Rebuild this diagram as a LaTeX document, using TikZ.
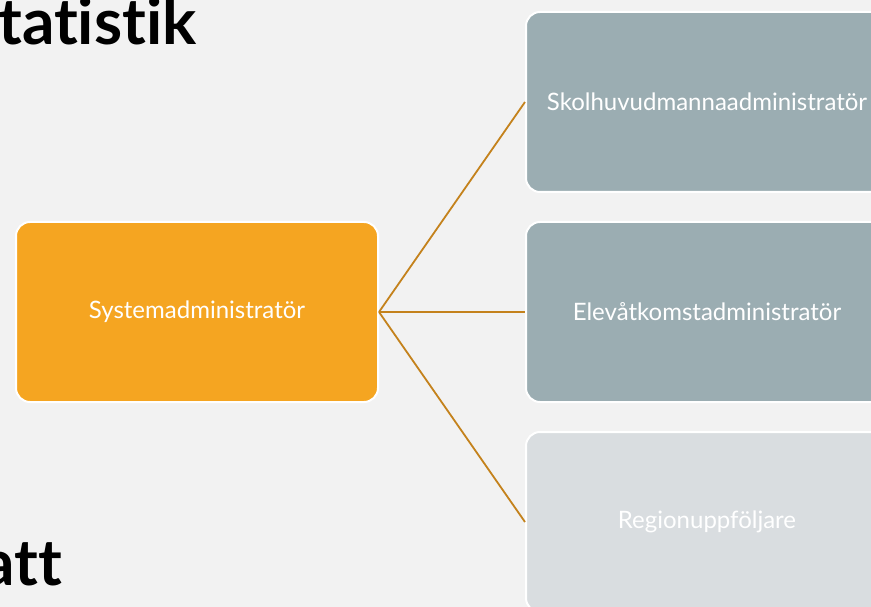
\documentclass[tikz,border=0pt]{standalone}
\usepackage{fontspec}
\setmainfont[Ligatures=NoCommon]{Lato}
\definecolor{bg}{HTML}{F2F2F2}
\definecolor{orangebox}{HTML}{F5A521}
\definecolor{graybox}{HTML}{9BADB2}
\definecolor{lightbox}{HTML}{D9DDE0}
\definecolor{linkcol}{HTML}{C4821C}
\begin{document}
\begin{tikzpicture}[x=1pt,y=-1pt,
  box/.style={draw=white,line width=2pt,rounded corners=14pt,minimum width=362pt,minimum height=180pt,inner sep=0pt,text=white,font=\fontsize{24}{28}\selectfont},
  heading/.style={anchor=base west,font=\bfseries\fontsize{64}{70}\selectfont,inner sep=0pt},
  link/.style={draw=linkcol,line width=1.8pt}]
\useasboundingbox (0,0) rectangle (871,607);
\clip (0,0) rectangle (871,607);
\fill[bg] (0,0) rectangle (871,607);
\node[heading] (title) at (-2,45) {tatistik};
\node[heading] (sub) at (-18,585) {att};
\node[box,fill=orangebox] (sys) at (197,312) {Systemadministratör};
\node[box,fill=graybox] (skol) at (707,102) {Skolhuvudmannaadministratör};
\node[box,fill=graybox] (elev) at (707,312) {Elevåtkomstadministratör};
\node[box,fill=lightbox] (reg) at (707,522) {Regionuppföljare};
\draw[link] (sys.east) -- (skol.west);
\draw[link] (sys.east) -- (elev.west);
\draw[link] (sys.east) -- (reg.west);
\end{tikzpicture}
\end{document}
